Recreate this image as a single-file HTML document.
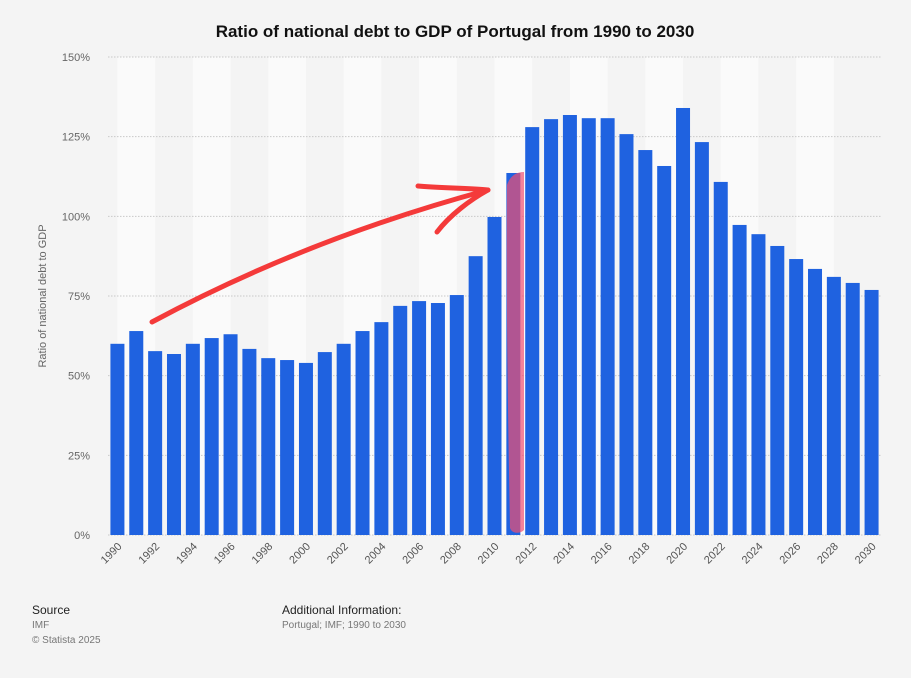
<!DOCTYPE html>
<html><head><meta charset="utf-8"><style>
body{margin:0;background:#f4f4f4;font-family:"Liberation Sans",sans-serif;}
svg{display:block}
</style></head><body>
<svg id="c" width="911" height="678" xmlns="http://www.w3.org/2000/svg">
<rect width="911" height="678" fill="#f4f4f4"/>
<text x="455" y="37" text-anchor="middle" font-size="17" font-weight="bold" fill="#111">Ratio of national debt to GDP of Portugal from 1990 to 2030</text>
<g id="bands"></g><g id="grid"></g><g id="bars"></g><g id="xt"></g>
<text transform="translate(46,296) rotate(-90)" text-anchor="middle" font-size="11" fill="#666">Ratio of national debt to GDP</text>
<g>
<path d="M152,322 C230,280 340,230 488,190" stroke="#f43a3a" stroke-width="5" fill="none" stroke-linecap="round"/>
<path d="M418,186 C440,188 470,188 488,190 C470,200 450,215 437,232" stroke="#f43a3a" stroke-width="5" fill="none" stroke-linecap="round" stroke-linejoin="round"/>
<path d="M507,185 C510,176 516,172 524,172 L524,530 C520,534 512,534 510,528 C508,420 506,300 507,185 Z" fill="#f05070" fill-opacity="0.7"/>
</g>
<text x="32" y="614" font-size="12" fill="#222">Source</text>
<text x="32" y="628" font-size="10" fill="#777">IMF</text>
<text x="32" y="643" font-size="10" fill="#777">© Statista 2025</text>
<text x="282" y="614" font-size="12" fill="#222">Additional Information:</text>
<text x="282" y="628" font-size="10" fill="#777">Portugal; IMF; 1990 to 2030</text>
</svg>
<script>
const years=[];for(let y=1990;y<=2030;y++)years.push(y);
const values=[60,64,57.7,56.8,60,61.8,63,58.4,55.5,54.9,54,57.4,60,64,66.8,71.9,73.4,72.8,75.3,87.5,99.8,113.6,128,130.5,131.8,130.8,130.8,125.8,120.8,115.8,134,123.3,110.8,97.3,94.4,90.7,86.6,83.5,81,79.1,76.9];
const yTicks=[0,25,50,75,100,125,150];
const NS="http://www.w3.org/2000/svg";
const x0=108,x1=881,y0=535,y1=57,slot=(x1-x0)/years.length;
const X=i=>x0+slot*(i+0.5);
const Y=v=>y0-(v/150)*(y0-y1);
function mk(t,a,p){const e=document.createElementNS(NS,t);for(const k in a)e.setAttribute(k,a[k]);document.getElementById(p).appendChild(e);return e;}
for(let i=0;i<years.length-1;i+=4){
 const b=mk('rect',{x:X(i),y:y1,width:slot*2,height:y0-y1,fill:'#fafafa'},'bands');
 
 
}
yTicks.forEach(t=>{
 const l=mk('line',{x1:x0,x2:x1,y1:Y(t),y2:Y(t),stroke:'#c8c8c8','stroke-dasharray':'1.5,1.5'},'grid');
 
 
 const tx=mk('text',{x:90,y:Y(t)+4,'text-anchor':'end','font-size':11,fill:'#666'},'grid');
 tx.textContent=t+'%';
 
 
});
values.forEach((v,i)=>{
 const r=mk('rect',{x:X(i)-7,y:Y(v),width:14,height:y0-Y(v),fill:'#1f62e0'},'bars');
 
 
});
years.forEach((y,i)=>{
 if(i%2)return;
 const t=mk('text',{transform:`translate(${X(i)+5},${y0+12}) rotate(-45)`,'text-anchor':'end','font-size':11,fill:'#555'},'xt');
 t.textContent=y;
 
 
});
</script>
</body></html>
